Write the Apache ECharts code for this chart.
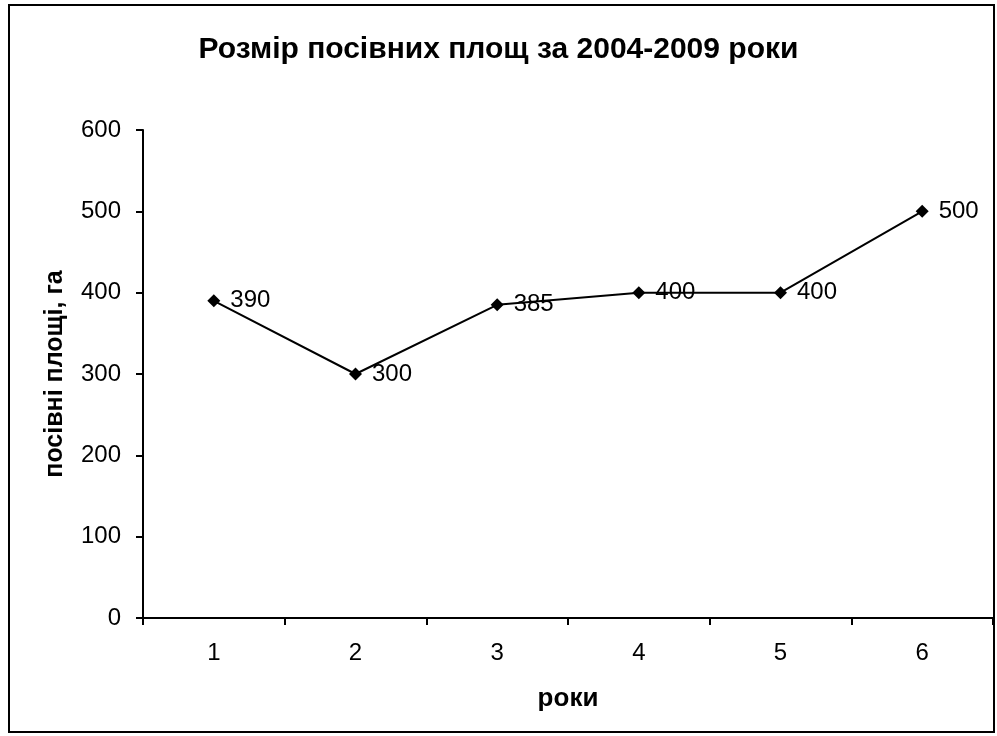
<!DOCTYPE html>
<html>
<head>
<meta charset="utf-8">
<script src="https://cdn.jsdelivr.net/npm/echarts@6/dist/echarts.min.js"></script>
<style>
html,body{margin:0;padding:0;background:#fff;}
#chart{width:997px;height:736px;}
</style>
</head>
<body>
<div id="chart"></div>
<script>
var categories = ['1', '2', '3', '4', '5', '6'];
var values = [390, 300, 385, 400, 400, 500];
var titleText = 'Розмір посівних площ за 2004-2009 роки';
var yName = 'посівні площі, га';
var xName = 'роки';

var chart = echarts.init(document.getElementById('chart'));
var font = 'Arial, "Liberation Sans", sans-serif';
chart.setOption({
  animation: false,
  backgroundColor: '#fff',
  title: {
    text: titleText,
    left: 'center',
    top: 30,
    textStyle: {fontFamily: font, fontSize: 30, fontWeight: 'bold', color: '#000'}
  },
  graphic: [{
    type: 'rect',
    shape: {x: 9, y: 5, width: 985, height: 727},
    style: {fill: 'none', stroke: '#000', lineWidth: 2},
    silent: true
  }],
  grid: {left: 143, right: 4, top: 130, bottom: 118},
  xAxis: {
    type: 'category',
    data: categories,
    boundaryGap: true,
    name: xName,
    nameLocation: 'middle',
    nameGap: 68,
    nameTextStyle: {fontFamily: font, fontSize: 26, fontWeight: 'bold', color: '#000'},
    axisLine: {lineStyle: {color: '#000', width: 2}},
    axisTick: {show: true, inside: false, length: 7, lineStyle: {color: '#000', width: 2}, alignWithLabel: false},
    axisLabel: {fontFamily: font, fontSize: 24, color: '#000', margin: 23},
    splitLine: {show: false}
  },
  yAxis: {
    type: 'value',
    min: 0, max: 600, interval: 100,
    name: yName,
    nameLocation: 'middle',
    nameGap: 75,
    nameRotate: 90,
    nameTextStyle: {fontFamily: font, fontSize: 25, fontWeight: 'bold', color: '#000'},
    axisLine: {show: true, lineStyle: {color: '#000', width: 2}},
    axisTick: {show: true, inside: false, length: 7, lineStyle: {color: '#000', width: 2}},
    axisLabel: {fontFamily: font, fontSize: 24, color: '#000', margin: 22},
    splitLine: {show: false}
  },
  series: [{
    type: 'line',
    data: values,
    symbol: 'diamond',
    symbolSize: 13,
    itemStyle: {color: '#000'},
    lineStyle: {color: '#000', width: 2},
    label: {
      show: true,
      position: 'right',
      distance: 10,
      fontFamily: font,
      fontSize: 24,
      color: '#000'
    }
  }]
});
</script>
</body>
</html>
